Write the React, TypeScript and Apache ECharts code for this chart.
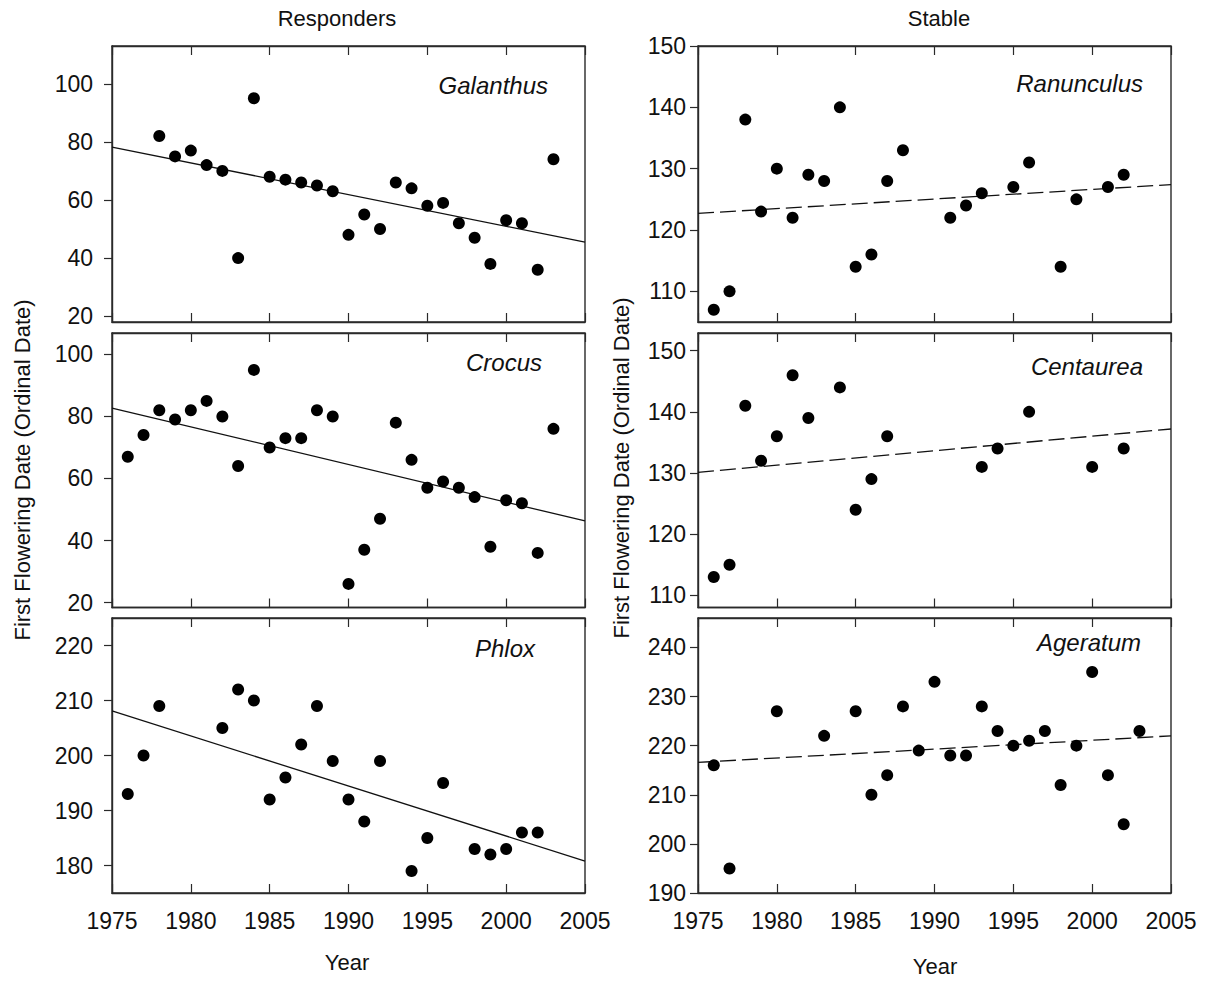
import React, { useEffect, useRef } from "react";
import * as echarts from "echarts";

// ---------- data ----------
const galanthusYears = [1978, 1979, 1980, 1981, 1982, 1983, 1984, 1985, 1986, 1987, 1988, 1989, 1990, 1991, 1992, 1993, 1994, 1995, 1996, 1997, 1998, 1999, 2000, 2001, 2002, 2003];
const galanthusValues = [82, 75, 77, 72, 70, 40, 95, 68, 67, 66, 65, 63, 48, 55, 50, 66, 64, 58, 59, 52, 47, 38, 53, 52, 36, 74];
const galanthusTrend = [78.2, 45.5];

const crocusYears = [1976, 1977, 1978, 1979, 1980, 1981, 1982, 1983, 1984, 1985, 1986, 1987, 1988, 1989, 1990, 1991, 1992, 1993, 1994, 1995, 1996, 1997, 1998, 1999, 2000, 2001, 2002, 2003];
const crocusValues = [67, 74, 82, 79, 82, 85, 80, 64, 95, 70, 73, 73, 82, 80, 26, 37, 47, 78, 66, 57, 59, 57, 54, 38, 53, 52, 36, 76];
const crocusTrend = [82.7, 46.3];

const phloxYears = [1976, 1977, 1978, 1982, 1983, 1984, 1985, 1986, 1987, 1988, 1989, 1990, 1991, 1992, 1994, 1995, 1996, 1998, 1999, 2000, 2001, 2002];
const phloxValues = [193, 200, 209, 205, 212, 210, 192, 196, 202, 209, 199, 192, 188, 199, 179, 185, 195, 183, 182, 183, 186, 186];
const phloxTrend = [208.1, 180.8];

const ranunculusYears = [1976, 1977, 1978, 1979, 1980, 1981, 1982, 1983, 1984, 1985, 1986, 1987, 1988, 1991, 1992, 1993, 1995, 1996, 1998, 1999, 2001, 2002];
const ranunculusValues = [107, 110, 138, 123, 130, 122, 129, 128, 140, 114, 116, 128, 133, 122, 124, 126, 127, 131, 114, 125, 127, 129];
const ranunculusTrend = [122.7, 127.4];

const centaureaYears = [1976, 1977, 1978, 1979, 1980, 1981, 1982, 1984, 1985, 1986, 1987, 1993, 1994, 1996, 2000, 2002];
const centaureaValues = [113, 115, 141, 132, 136, 146, 139, 144, 124, 129, 136, 131, 134, 140, 131, 134];
const centaureaTrend = [130.1, 137.2];

const ageratumYears = [1976, 1977, 1980, 1983, 1985, 1986, 1987, 1988, 1989, 1990, 1991, 1992, 1993, 1994, 1995, 1996, 1997, 1998, 1999, 2000, 2001, 2002, 2003];
const ageratumValues = [216, 195, 227, 222, 227, 210, 214, 228, 219, 233, 218, 218, 228, 223, 220, 221, 223, 212, 220, 235, 214, 204, 223];
const ageratumTrend = [216.6, 222.0];

const yearRange = [1975, 2005];
const responderTicks = [20, 40, 60, 80, 100];
const phloxTicks = [180, 190, 200, 210, 220];
const ranunculusTicks = [110, 120, 130, 140, 150];
const centaureaTicks = [110, 120, 130, 140, 150];
const ageratumTicks = [190, 200, 210, 220, 230, 240];

const columnTitles = ["Responders", "Stable"];
const xTitle = "Year";
const yTitle = "First Flowering Date (Ordinal Date)";

// ---------- layout ----------
const FONT = '"Liberation Sans", Arial, Helvetica, sans-serif';
const colLeft = [112, 698];
const colWidth = 473;
const rowTop = [46, 333, 618];
const rowHeight = [276, 274.5, 275];

const panels = [
  { name: "Galanthus", years: galanthusYears, values: galanthusValues, trend: galanthusTrend, range: [18, 113], ticks: responderTicks, col: 0, row: 0, labelRight: 548, labelY: 85 },
  { name: "Crocus", years: crocusYears, values: crocusValues, trend: crocusTrend, range: [18.4, 106.9], ticks: responderTicks, col: 0, row: 1, labelRight: 542, labelY: 362 },
  { name: "Phlox", years: phloxYears, values: phloxValues, trend: phloxTrend, range: [175, 225], ticks: phloxTicks, col: 0, row: 2, labelRight: 535, labelY: 648 },
  { name: "Ranunculus", years: ranunculusYears, values: ranunculusValues, trend: ranunculusTrend, range: [105, 150], ticks: ranunculusTicks, col: 1, row: 0, labelRight: 1143, labelY: 83 },
  { name: "Centaurea", years: centaureaYears, values: centaureaValues, trend: centaureaTrend, range: [108, 152.9], ticks: centaureaTicks, col: 1, row: 1, labelRight: 1143, labelY: 366 },
  { name: "Ageratum", years: ageratumYears, values: ageratumValues, trend: ageratumTrend, range: [190, 246], ticks: ageratumTicks, col: 1, row: 2, labelRight: 1141, labelY: 642 },
];

const INK = "#111";
const FRAME = "#2a2a2a";
const TICK_FONT = 23;
const TITLE_FONT = 22;

export default function App() {
  const ref = useRef<HTMLDivElement>(null);

  useEffect(() => {
    if (!ref.current) return;
    const chart = echarts.init(ref.current, undefined, { renderer: "svg" });

    const grid: any[] = [];
    const xAxis: any[] = [];
    const yAxis: any[] = [];
    const series: any[] = [];
    const graphic: any[] = [];

    panels.forEach((p, i) => {
      grid.push({
        left: colLeft[p.col],
        top: rowTop[p.row],
        width: colWidth,
        height: rowHeight[p.row],
        show: true,
        borderColor: FRAME,
        borderWidth: 1.4,
        backgroundColor: "transparent",
        containLabel: false,
      });
      const isBottom = p.row === 2;
      ["bottom", "top"].forEach((pos) => {
        xAxis.push({
          type: "value",
          gridIndex: i,
          position: pos,
          min: yearRange[0],
          max: yearRange[1],
          interval: 5,
          axisLine: { show: true, lineStyle: { color: FRAME, width: 1.4 } },
          axisTick: { show: true, inside: true, length: 9, lineStyle: { color: FRAME, width: 1.2 } },
          axisLabel: {
            show: pos === "bottom" && isBottom,
            margin: 16,
            color: INK,
            fontSize: TICK_FONT,
            fontFamily: FONT,
            formatter: (v: number) => String(v),
          },
          splitLine: { show: false },
        });
      });
      yAxis.push({
        type: "value",
        gridIndex: i,
        position: "left",
        min: p.range[0],
        max: p.range[1],
        axisLine: { show: true, lineStyle: { color: FRAME, width: 1.4 } },
        axisTick: {
          show: true,
          inside: false,
          length: 8,
          customValues: p.ticks,
          lineStyle: { color: FRAME, width: 1.2 },
        },
        axisLabel: {
          show: true,
          customValues: p.ticks,
          margin: p.col === 0 ? 19 : 12,
          color: INK,
          fontSize: TICK_FONT,
          fontFamily: FONT,
          formatter: (v: number) => String(v),
        },
        splitLine: { show: false },
      });
      series.push({
        type: "line",
        xAxisIndex: 2 * i,
        yAxisIndex: i,
        data: [
          [yearRange[0], p.trend[0]],
          [yearRange[1], p.trend[1]],
        ],
        symbol: "none",
        silent: true,
        lineStyle: {
          color: "#111",
          width: 1.3,
          type: p.col === 1 ? [16, 6] : "solid",
        },
        z: 2,
      });
      series.push({
        type: "scatter",
        xAxisIndex: 2 * i,
        yAxisIndex: i,
        data: p.years.map((y, k) => [y, p.values[k]]),
        symbol: "circle",
        symbolSize: 12,
        itemStyle: { color: "#000", opacity: 1 },
        z: 3,
      });
      graphic.push({
        type: "text",
        x: p.labelRight,
        y: p.labelY,
        style: {
          text: p.name,
          fill: INK,
          font: `italic 24px ${FONT}`,
          textAlign: "right",
          textVerticalAlign: "middle",
        },
      });
    });

    const t = (text: string, x: number, y: number, rot = 0) => ({
      type: "text",
      x,
      y,
      rotation: rot,
      style: { text, fill: INK, font: `${TITLE_FONT}px ${FONT}`, textAlign: "center", textVerticalAlign: "middle" },
    });
    graphic.push(
      t(columnTitles[0], 337, 18),
      t(columnTitles[1], 939, 18),
      t(xTitle, 347, 962),
      t(xTitle, 935, 966),
      t(yTitle, 22, 470, Math.PI / 2),
      t(yTitle, 621, 468, Math.PI / 2)
    );

    chart.setOption({
      animation: false,
      backgroundColor: "#fff",
      grid,
      xAxis,
      yAxis,
      series,
      graphic,
    });

    return () => chart.dispose();
  }, []);

  return (
    <div
      ref={ref}
      style={{ position: "fixed", left: 0, top: 0, width: 1215, height: 982, background: "#fff" }}
    />
  );
}
